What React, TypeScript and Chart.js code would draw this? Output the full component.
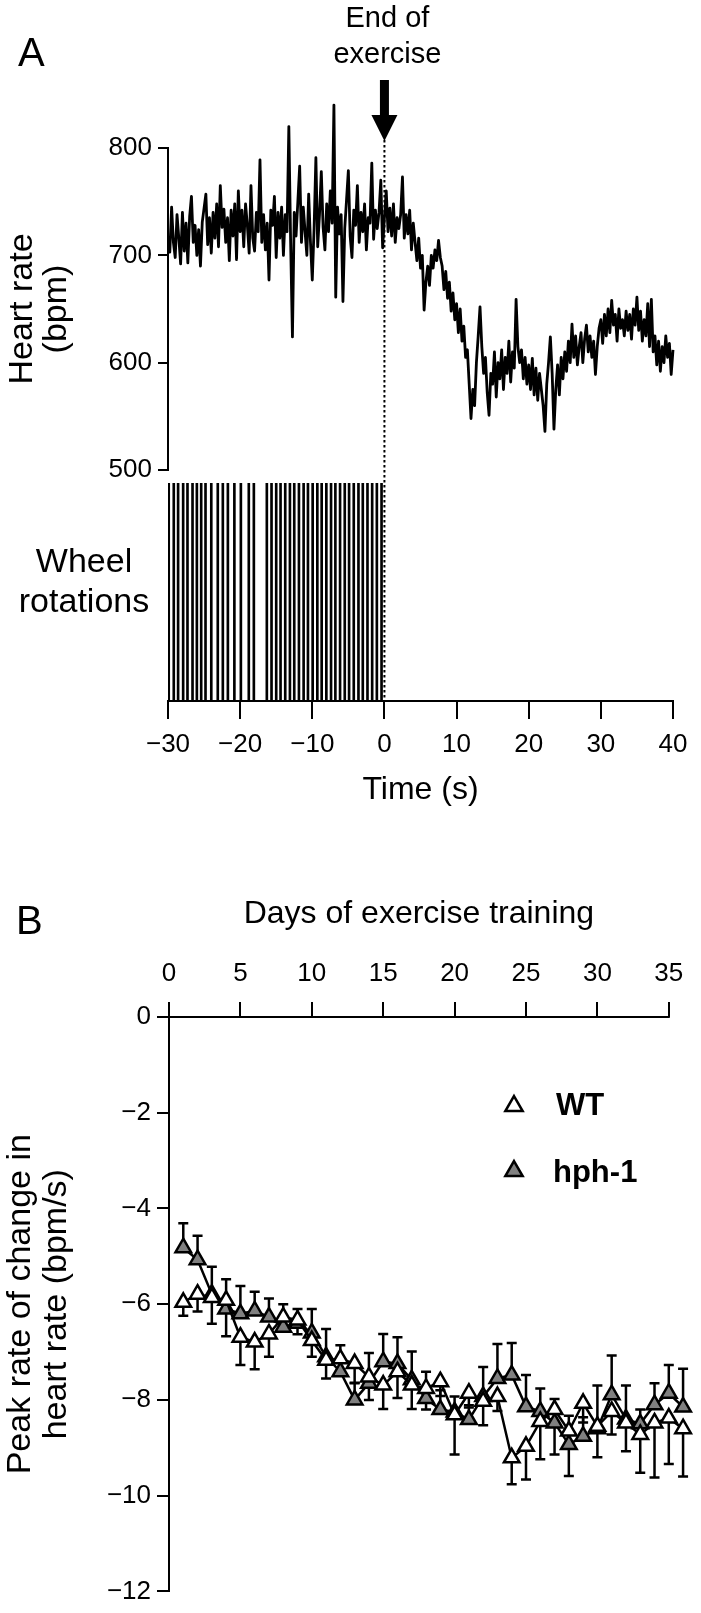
import React, { useEffect, useRef } from "react";
import { Chart, registerables } from "chart.js";

Chart.register(...registerables);

const W = 701;
const H = 1613;
const FONT = "'Liberation Sans', Arial, Helvetica, sans-serif";

const fmtMinus = (v: number) => (v < 0 ? "\u2212" + Math.abs(v) : String(v));

// ---------------- Panel A data ----------------
const hrStartSeconds = -30;
const hrSampleSeconds = 0.25;
// heart rate (bpm), one value every 0.25 s from -30 s to +40 s
const heartRateBpm = [
  703, 703, 745, 712, 698, 738, 716, 692, 740, 704, 730, 693, 736, 755, 712, 728,
  700, 724, 690, 731, 744, 757, 710, 735, 702, 740, 716, 748, 708, 765, 726, 743,
  712, 735, 695, 742, 718, 748, 696, 760, 722, 742, 708, 748, 728, 702, 765, 716,
  704, 740, 722, 789, 712, 738, 705, 730, 677, 742, 728, 755, 698, 740, 716, 745,
  700, 738, 722, 820, 712, 624, 740, 718, 750, 783, 712, 745, 722, 700, 757, 712,
  677, 725, 791, 708, 738, 778, 726, 705, 748, 722, 760, 730, 840, 661, 745, 720,
  738, 657, 725, 752, 779, 718, 698, 742, 728, 765, 712, 740, 722, 748, 705, 735,
  730, 786, 715, 742, 725, 740, 770, 707,
  735, 760, 722, 744, 718, 748, 712, 735, 725, 738, 773, 716, 738, 720, 742, 705,
  730, 712, 695, 716, 688, 700, 649, 675, 690, 672, 700, 688, 705, 695, 714, 698,
  690, 668, 685, 660, 675, 648, 665, 640, 655, 628, 650, 620, 634, 605, 612, 580,
  548, 575, 560, 600, 625, 652, 615, 590, 605, 572, 551, 590, 580, 610, 568, 600,
  585, 612, 575, 605, 590, 620, 582, 610, 595, 659, 615, 600, 612, 585, 605, 580,
  598, 575, 604, 570, 595, 565, 590, 575, 560, 536, 580, 600, 624, 590, 538, 575,
  598, 570, 605, 585, 610, 592, 620, 600, 636, 605, 625, 598, 615, 628, 600, 622,
  635, 610, 625, 605, 620, 589, 615, 632, 640, 618, 645, 625, 650, 628, 658, 635,
  645, 620, 650, 632, 640, 625, 648, 630, 645, 622, 650, 635, 661, 630, 648, 620,
  640, 625, 655, 615, 659, 610, 625, 598, 620, 592, 615, 600, 625, 605, 618, 589,
  612,
];
// times (s) of wheel-rotation events
const wheelRotationSeconds = [
  -29.9, -29.2, -28.6, -27.9, -27.3, -26.6, -26.0, -25.4, -24.8, -24.0, -23.1,
  -22.4, -21.7, -20.8, -19.9, -18.8, -18.1,
  -16.3, -15.65, -15.0, -14.4, -13.75, -13.1, -12.5, -11.85, -11.2, -10.6,
  -9.95, -9.3, -8.7, -8.05, -7.4, -6.8, -6.15, -5.5, -4.9, -4.25, -3.6, -3.0,
  -2.35, -1.7, -1.05, -0.4,
];
const timeMin = -30;
const timeMax = 40;
const timeStep = 10;
const hrMin = 500;
const hrMax = 800;
const hrStep = 100;

// ---------------- Panel B data ----------------
const trainingDays = [
  1, 2, 3, 4, 5, 6, 7, 8, 9, 10, 11, 12, 13, 14, 15, 16, 17, 18, 19, 20, 21, 22,
  23, 24, 25, 26, 27, 28, 29, 30, 31, 32, 33, 34, 35, 36,
];
const wtPeakRate = [
  -5.96, -5.79, -5.86, -5.92, -6.69, -6.79, -6.62, -6.27, -6.33, -6.76, -7.17,
  -7.14, -7.24, -7.52, -7.69, -7.41, -7.69, -7.76, -7.62, -8.31, -7.86, -8.03,
  -7.93, -9.21, -8.97, -8.45, -8.2, -8.65, -8.07, -8.55, -8.24, -8.48, -8.72,
  -8.48, -8.38, -8.6,
];
const wtSem = [
  0.28, 0.36, 0.55, 0.75, 0.58, 0.57, 0.48, 0.3, 0.3, 0.34, 0.38, 0.3, 0.4, 0.48,
  0.5, 0.55, 0.5, 0.44, 0.3, 0.83, 0.3, 0.5, 0.3, 0.55, 0.69, 0.79, 0.94, 0.94,
  0.4, 0.65, 0.48, 0.59, 0.8, 1.14, 0.96, 1.0,
];
const hph1PeakRate = [
  -4.82, -5.07, -5.79, -6.1, -6.2, -6.14, -6.27, -6.48, -6.4, -6.6, -7.1, -7.41,
  -8.0, -7.65, -7.2, -7.24, -7.58, -7.97, -8.2, -8.25, -8.41, -7.93, -7.55,
  -7.48, -8.14, -8.24, -8.48, -8.93, -8.76, -8.6, -7.89, -8.4, -8.5, -8.1,
  -7.86, -8.15,
];
const hph1Sem = [
  0.51, 0.5, 0.57, 0.62, 0.58, 0.4, 0.39, 0.48, 0.3, 0.5, 0.58, 0.55, 0.35, 0.63,
  0.58, 0.55, 0.59, 0.56, 0.4, 0.32, 0.3, 0.62, 0.72, 0.67, 0.66, 0.48, 0.5, 0.6,
  0.4, 0.9, 0.82, 0.7, 0.3, 0.45, 0.59, 0.8,
];
const dayTicks = [0, 5, 10, 15, 20, 25, 30, 35];
const dayScaleMax = 36.45; // room for the last training day beyond the 35 tick
const rateMin = -12;
const rateMax = 0;
const rateStep = 2;

// ---------------- helpers ----------------
const black = "#000";

function axisGrid(tickLength: number) {
  return {
    drawOnChartArea: false,
    drawTicks: true,
    tickLength,
    color: black,
    lineWidth: 2,
  };
}

function tickFont() {
  return { family: FONT, size: 26 };
}

function titleFont(size = 34, lineHeight = 1.2) {
  return { family: FONT, size, lineHeight };
}

function drawTri(ctx: CanvasRenderingContext2D, x: number, y: number, r: number, fill: string) {
  ctx.beginPath();
  let rad = 0;
  for (let k = 0; k < 3; k++) {
    const px = x + Math.sin(rad) * r;
    const py = y - Math.cos(rad) * r;
    if (k === 0) ctx.moveTo(px, py);
    else ctx.lineTo(px, py);
    rad += (2 * Math.PI) / 3;
  }
  ctx.closePath();
  ctx.fillStyle = fill;
  ctx.fill();
  ctx.lineWidth = 2.5;
  ctx.strokeStyle = black;
  ctx.stroke();
}

const panelAAnnotations = {
  id: "panelAAnnotations",
  afterDraw(chart: any) {
    const ctx = chart.ctx as CanvasRenderingContext2D;
    const x0 = chart.scales.x.getPixelForValue(0);
    const bottom = chart.chartArea.bottom;
    ctx.save();
    // dotted line at end of exercise
    ctx.strokeStyle = black;
    ctx.lineWidth = 2;
    ctx.setLineDash([2.5, 2.5]);
    ctx.beginPath();
    ctx.moveTo(x0, 140);
    ctx.lineTo(x0, bottom);
    ctx.stroke();
    ctx.setLineDash([]);
    // arrow
    ctx.fillStyle = black;
    ctx.fillRect(x0 - 4.5, 80, 9, 38);
    ctx.beginPath();
    ctx.moveTo(x0 - 13, 115);
    ctx.lineTo(x0 + 13, 115);
    ctx.lineTo(x0, 141);
    ctx.closePath();
    ctx.fill();
    // texts
    ctx.fillStyle = black;
    ctx.textBaseline = "alphabetic";
    ctx.textAlign = "center";
    ctx.font = `29px ${FONT}`;
    ctx.fillText("End of", x0 + 3, 27);
    ctx.fillText("exercise", x0 + 3, 63);
    ctx.font = `34px ${FONT}`;
    ctx.fillText("Wheel", 84, 572);
    ctx.fillText("rotations", 84, 612);
    ctx.textAlign = "left";
    ctx.font = `40px ${FONT}`;
    ctx.fillText("A", 18, 66);
    ctx.restore();
  },
};

const errorBars = {
  id: "errorBars",
  beforeDatasetsDraw(chart: any) {
    const ctx = chart.ctx as CanvasRenderingContext2D;
    const yScale = chart.scales.y;
    ctx.save();
    ctx.strokeStyle = black;
    ctx.lineWidth = 2.5;
    chart.data.datasets.forEach((ds: any, i: number) => {
      const meta = chart.getDatasetMeta(i);
      const errs: number[] = ds.sem;
      const dir: number = ds.semDirection;
      meta.data.forEach((pt: any, j: number) => {
        if (pt == null || !isFinite(pt.x) || !isFinite(pt.y)) return;
        const v = ds.data[j].y;
        const yEnd = yScale.getPixelForValue(v + dir * errs[j]);
        ctx.beginPath();
        ctx.moveTo(pt.x, pt.y);
        ctx.lineTo(pt.x, yEnd);
        ctx.moveTo(pt.x - 5, yEnd);
        ctx.lineTo(pt.x + 5, yEnd);
        ctx.stroke();
      });
    });
    ctx.restore();
  },
};

const panelBAnnotations = {
  id: "panelBAnnotations",
  afterDraw(chart: any) {
    const ctx = chart.ctx as CanvasRenderingContext2D;
    const xs = chart.scales.x;
    const top = chart.chartArea.top;
    const xStart = xs.getPixelForValue(dayTicks[0]);
    const xEnd = xs.getPixelForValue(dayTicks[dayTicks.length - 1]);
    ctx.save();
    // top axis line from 0 to 35 days
    ctx.strokeStyle = black;
    ctx.lineWidth = 2;
    ctx.beginPath();
    ctx.moveTo(xStart - 1, top);
    ctx.lineTo(xEnd + 1, top);
    ctx.stroke();

    ctx.fillStyle = black;
    // axis title centred over the 0–35 span
    ctx.textAlign = "center";
    ctx.textBaseline = "middle";
    ctx.font = `32px ${FONT}`;
    ctx.fillText("Days of exercise training", (xStart + xEnd) / 2, 914);

    ctx.textBaseline = "alphabetic";
    ctx.textAlign = "left";
    ctx.font = `40px ${FONT}`;
    ctx.fillText("B", 16, 934);
    // legend
    const ds = chart.data.datasets;
    drawTri(ctx, 514, 1106, 10, ds[0].pointBackgroundColor);
    drawTri(ctx, 514, 1171, 10, ds[1].pointBackgroundColor);
    ctx.fillStyle = black;
    ctx.font = `bold 31px ${FONT}`;
    ctx.fillText(ds[0].label, 556, 1115);
    ctx.fillText(ds[1].label, 553, 1182);
    ctx.restore();
  },
};

export default function App() {
  const hrRef = useRef<HTMLCanvasElement>(null);
  const wheelRef = useRef<HTMLCanvasElement>(null);
  const bRef = useRef<HTMLCanvasElement>(null);

  useEffect(() => {
    const charts: Chart[] = [];

    const hrPoints = heartRateBpm.map((v, i) => ({
      x: hrStartSeconds + i * hrSampleSeconds,
      y: v,
    }));

    // Panel A: heart rate trace
    charts.push(
      new Chart(hrRef.current as HTMLCanvasElement, {
        type: "line",
        data: {
          datasets: [
            {
              data: hrPoints,
              borderColor: black,
              borderWidth: 2.8,
              pointRadius: 0,
              tension: 0,
              borderJoinStyle: "round",
              clip: false,
            } as any,
          ],
        },
        options: {
          responsive: false,
          animation: false,
          devicePixelRatio: 1,
          layout: { padding: { left: 0, top: 148, right: W - 673, bottom: H - 470 } },
          plugins: { legend: { display: false }, tooltip: { enabled: false } },
          scales: {
            x: { type: "linear", min: timeMin, max: timeMax, display: false },
            y: {
              min: hrMin,
              max: hrMax,
              ticks: { stepSize: hrStep, font: tickFont(), color: black, padding: 6 },
              grid: axisGrid(10),
              border: { display: true, color: black, width: 2 },
              title: {
                display: true,
                text: ["Heart rate", "(bpm)"],
                font: titleFont(34, 1.0),
                color: black,
                padding: { top: 6, bottom: 0 },
              },
              afterFit: (s: any) => {
                s.width = 168;
              },
            },
          },
        } as any,
      })
    );

    // Panel A: wheel rotations
    charts.push(
      new Chart(wheelRef.current as HTMLCanvasElement, {
        type: "bar",
        data: {
          datasets: [
            {
              data: wheelRotationSeconds.map((t) => ({ x: t, y: 1 })),
              backgroundColor: black,
              borderWidth: 0,
              barThickness: 2,
            } as any,
          ],
        },
        options: {
          responsive: false,
          animation: false,
          devicePixelRatio: 1,
          layout: { padding: { left: 168, top: 483, right: W - 673, bottom: H - 701 - 108 } },
          plugins: { legend: { display: false }, tooltip: { enabled: false } },
          scales: {
            x: {
              type: "linear",
              min: timeMin,
              max: timeMax,
              offset: false,
              ticks: {
                stepSize: timeStep,
                font: tickFont(),
                color: black,
                padding: 10,
                maxRotation: 0,
                autoSkip: false,
                callback: (v: any) => fmtMinus(Number(v)),
              },
              grid: { ...axisGrid(18), offset: false },
              border: { display: true, color: black, width: 2 },
              title: {
                display: true,
                text: "Time (s)",
                font: titleFont(32),
                color: black,
                padding: { top: 0, bottom: 0 },
              },
              afterFit: (s: any) => {
                s.height = 108;
              },
            },
            y: { min: 0, max: 1, display: false },
          },
        } as any,
        plugins: [panelAAnnotations],
      })
    );

    // Panel B
    charts.push(
      new Chart(bRef.current as HTMLCanvasElement, {
        type: "line",
        data: {
          datasets: [
            {
              label: "WT",
              data: trainingDays.map((d, i) => ({ x: d, y: wtPeakRate[i] })),
              sem: wtSem,
              semDirection: -1,
              borderColor: black,
              borderWidth: 2.5,
              tension: 0,
              pointStyle: "triangle",
              pointRadius: 9,
              pointBackgroundColor: "#ffffff",
              pointBorderColor: black,
              pointBorderWidth: 2.5,
              clip: false,
            } as any,
            {
              label: "hph-1",
              data: trainingDays.map((d, i) => ({ x: d, y: hph1PeakRate[i] })),
              sem: hph1Sem,
              semDirection: 1,
              borderColor: black,
              borderWidth: 2.5,
              tension: 0,
              pointStyle: "triangle",
              pointRadius: 9,
              pointBackgroundColor: "#808080",
              pointBorderColor: black,
              pointBorderWidth: 2.5,
              clip: false,
            } as any,
          ],
        },
        options: {
          responsive: false,
          animation: false,
          devicePixelRatio: 1,
          layout: { padding: { left: 0, top: 1017 - 122, right: 7, bottom: H - 1595 } },
          plugins: { legend: { display: false }, tooltip: { enabled: false } },
          scales: {
            x: {
              type: "linear",
              position: "top",
              min: dayTicks[0],
              max: dayScaleMax,
              afterBuildTicks: (s: any) => {
                s.ticks = dayTicks.map((v) => ({ value: v }));
              },
              ticks: {
                font: tickFont(),
                color: black,
                padding: 13,
                maxRotation: 0,
                autoSkip: false,
              },
              grid: axisGrid(15),
              border: { display: false },
              title: { display: false },
              afterFit: (s: any) => {
                s.height = 122;
              },
            },
            y: {
              min: rateMin,
              max: rateMax,
              ticks: {
                stepSize: rateStep,
                font: tickFont(),
                color: black,
                padding: 6,
                callback: (v: any) => fmtMinus(Number(v)),
              },
              grid: axisGrid(12),
              border: { display: true, color: black, width: 2 },
              title: {
                display: true,
                text: ["Peak rate of change in", "heart rate (bpm/s)"],
                font: titleFont(34, 1.08),
                color: black,
                padding: { top: 2, bottom: 0 },
              },
              afterFit: (s: any) => {
                s.width = 169;
              },
            },
          },
        } as any,
        plugins: [errorBars, panelBAnnotations],
      })
    );

    return () => charts.forEach((c) => c.destroy());
  }, []);

  const canvasStyle: React.CSSProperties = {
    position: "absolute",
    left: 0,
    top: 0,
    width: W,
    height: H,
  };

  return (
    <div style={{ position: "absolute", left: 0, top: 0, width: W, height: H, background: "#fff" }}>
      <canvas ref={hrRef} width={W} height={H} style={canvasStyle} />
      <canvas ref={wheelRef} width={W} height={H} style={canvasStyle} />
      <canvas ref={bRef} width={W} height={H} style={canvasStyle} />
    </div>
  );
}
